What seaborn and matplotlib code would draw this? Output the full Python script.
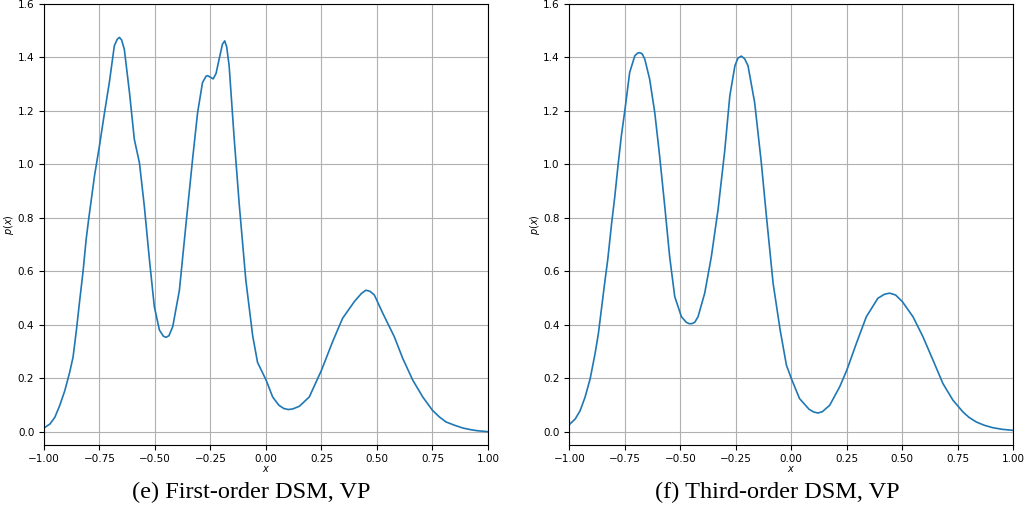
import numpy as np
import pandas as pd
import matplotlib
matplotlib.use("Agg")
import matplotlib.pyplot as plt
import seaborn as sns

# Values
first_x = [-1.0, -0.973, -0.951, -0.929, -0.906, -0.884, -0.869, -0.854, -0.839, -0.824,
           -0.81, -0.798, -0.785, -0.772, -0.75, -0.728, -0.705, -0.683, -0.67, -0.66,
           -0.65, -0.638, -0.615, -0.593, -0.57, -0.548, -0.525, -0.503, -0.48, -0.462,
           -0.45, -0.437, -0.42, -0.39, -0.36, -0.33, -0.308, -0.286, -0.27, -0.263,
           -0.25, -0.238, -0.225, -0.211, -0.196, -0.186, -0.177, -0.166, -0.144, -0.121,
           -0.091, -0.06, -0.038, 0.0, 0.03, 0.058, 0.08, 0.1, 0.12, 0.15,
           0.195, 0.25, 0.30, 0.345, 0.398, 0.43, 0.45, 0.468, 0.488, 0.526,
           0.578, 0.616, 0.661, 0.706, 0.75, 0.78, 0.811, 0.85, 0.886, 0.92,
           0.95, 1.0]
first_p = [0.015, 0.03, 0.055, 0.099, 0.155, 0.224, 0.28, 0.38, 0.4925, 0.6,
           0.72, 0.8, 0.88, 0.96, 1.07, 1.19, 1.31, 1.444, 1.468, 1.475,
           1.465, 1.43, 1.27, 1.094, 1.006, 0.844, 0.644, 0.469, 0.381, 0.358,
           0.354, 0.36, 0.394, 0.53, 0.78, 1.025, 1.194, 1.306, 1.33, 1.332,
           1.326, 1.32, 1.34, 1.394, 1.45, 1.462, 1.44, 1.369, 1.106, 0.856,
           0.569, 0.36, 0.26, 0.195, 0.131, 0.1, 0.088, 0.084, 0.086, 0.096,
           0.131, 0.231, 0.3375, 0.425, 0.4875, 0.518, 0.53, 0.526, 0.5125, 0.444,
           0.356, 0.275, 0.194, 0.131, 0.081, 0.057, 0.0375, 0.025, 0.015, 0.009,
           0.005, 0.001]

third_x = [-1.0, -0.973, -0.951, -0.929, -0.906, -0.884, -0.869, -0.854, -0.839, -0.827,
           -0.81, -0.795, -0.78, -0.765, -0.75, -0.728, -0.705, -0.693, -0.683, -0.672,
           -0.66, -0.638, -0.615, -0.593, -0.57, -0.548, -0.525, -0.495, -0.473, -0.46,
           -0.448, -0.435, -0.42, -0.39, -0.36, -0.33, -0.30, -0.277, -0.254, -0.24,
           -0.225, -0.21, -0.195, -0.165, -0.135, -0.112, -0.082, -0.05, -0.022, 0.0,
           0.037, 0.08, 0.1, 0.12, 0.14, 0.173, 0.218, 0.25, 0.293, 0.338,
           0.39, 0.42, 0.443, 0.47, 0.5, 0.548, 0.593, 0.638, 0.683, 0.728,
           0.773, 0.8, 0.833, 0.87, 0.908, 0.95, 1.0]
third_p = [0.0275, 0.049, 0.08, 0.13, 0.199, 0.2925, 0.3675, 0.4675, 0.5675, 0.6425,
           0.775, 0.88, 1.0, 1.11, 1.2, 1.344, 1.406, 1.416, 1.418, 1.414,
           1.394, 1.319, 1.194, 1.031, 0.844, 0.656, 0.506, 0.431, 0.41, 0.405,
           0.405, 0.41, 0.431, 0.519, 0.656, 0.831, 1.05, 1.256, 1.369, 1.398,
           1.405, 1.395, 1.369, 1.231, 1.006, 0.806, 0.556, 0.38, 0.25, 0.2,
           0.125, 0.085, 0.075, 0.071, 0.076, 0.1, 0.169, 0.231, 0.331, 0.431,
           0.5, 0.515, 0.519, 0.512, 0.4875, 0.431, 0.356, 0.269, 0.181, 0.119,
           0.075, 0.055, 0.0375, 0.025, 0.016, 0.01, 0.006]

captions = ["(e) First-order DSM, VP", "(f) Third-order DSM, VP"]
x_ticks = [-1.0, -0.75, -0.5, -0.25, 0.0, 0.25, 0.5, 0.75, 1.0]
y_ticks = [0.0, 0.2, 0.4, 0.6, 0.8, 1.0, 1.2, 1.4, 1.6]

fig = plt.figure(figsize=(10.25, 5.09), dpi=100)
ax_left = fig.add_axes([0.0429, 0.125, 0.4332, 0.8672])
ax_right = fig.add_axes([0.5554, 0.125, 0.4332, 0.8672])

panels = [(ax_left, first_x, first_p), (ax_right, third_x, third_p)]
for (ax, xs, ps), caption in zip(panels, captions):
    df = pd.DataFrame({"x": xs, "p": ps})
    sns.lineplot(data=df, x="x", y="p", ax=ax, color="#1f77b4", linewidth=1.2)
    ax.set_xlim(-1, 1)
    ax.set_ylim(-0.05, 1.6)
    ax.set_xticks(x_ticks)
    ax.set_yticks(y_ticks)
    ax.tick_params(labelsize=7.5)
    ax.tick_params(axis="x", pad=2.5)
    ax.grid(True, color="#b0b0b0", linewidth=0.8)
    ax.set_xlabel("$x$", fontsize=7)
    ax.set_ylabel("$p(x)$", fontsize=7)
    ax.yaxis.set_label_coords(-0.062, 0.5)
    ax.xaxis.set_label_coords(0.5, -0.042)
    pos = ax.get_position()
    fig.text(pos.x0 + pos.width / 2 - 0.014, 0.032, caption,
             ha="center", va="center", fontsize=17.5, family="Liberation Serif")

fig.savefig("out.png", dpi=100)
